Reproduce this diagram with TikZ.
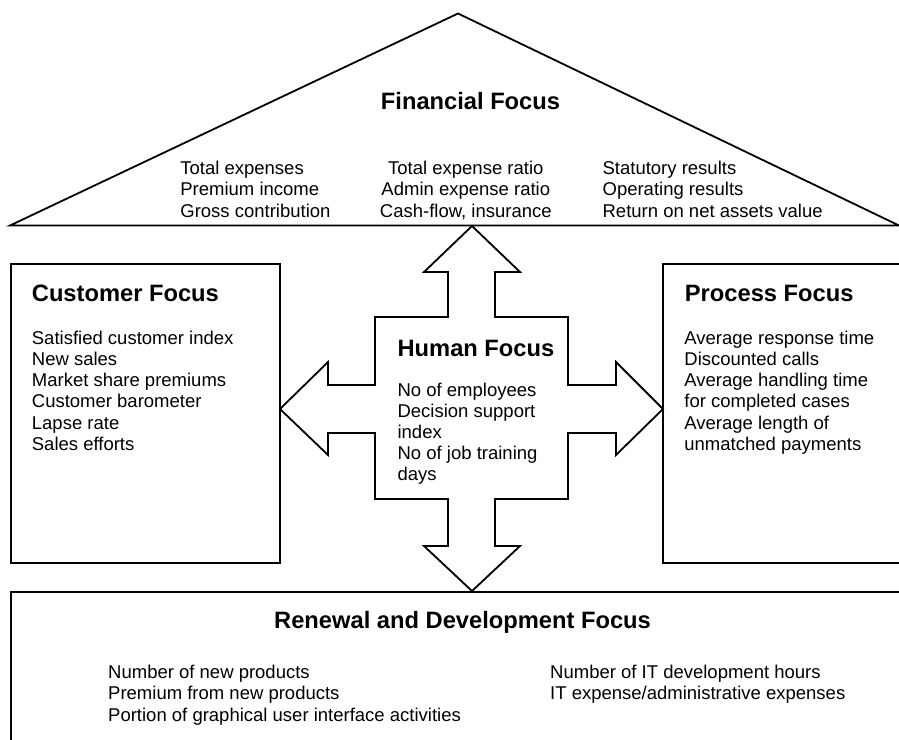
\documentclass[tikz,border=0pt]{standalone}
\usepackage{fontspec}
\setmainfont{Liberation Sans}
\begin{document}
\begin{tikzpicture}[x=1pt,y=-1pt,line width=1.8pt,line join=miter,
  box/.style={draw, rectangle, inner sep=0pt, outer sep=0pt, anchor=north west},
  head/.style={font=\fontsize{23.7}{28}\selectfont\bfseries, inner sep=0pt},
  body/.style={font=\fontsize{18.5}{21.3}\selectfont, inner sep=0pt}]
\useasboundingbox (0,0) rectangle (899,739);
% Financial focus roof
\draw (10,225.5) -- (458,13.5) -- (899,225.5) -- cycle;
\node[head, anchor=base] (fin) at (470.5,109) {Financial Focus};
\foreach \s [count=\i from 0] in {Total expenses, Premium income, Gross contribution}
  \node[body, anchor=base west] (fa\i) at (179.5,{174+21.6*\i}) {\s};
\foreach \s [count=\i from 0] in {Total expense ratio, Admin expense ratio, {Cash-flow, insurance}}
  \node[body, anchor=base] (fb\i) at (465.8,{174+21.6*\i}) {\s};
\foreach \s [count=\i from 0] in {Statutory results, Operating results, Return on net assets value}
  \node[body, anchor=base west] (fc\i) at (601.7,{174+21.6*\i}) {\s};
% Customer focus
\node[box, minimum width=269pt, minimum height=299pt] (cust) at (11,264) {};
\node[head, anchor=base west] (custh) at (31,301) {Customer Focus};
\foreach \s [count=\i from 0] in {Satisfied customer index, New sales, Market share premiums, Customer barometer, Lapse rate, Sales efforts}
  \node[body, anchor=base west] (ca\i) at (31,{344+21.25*\i}) {\s};
% Process focus
\node[box, minimum width=270pt, minimum height=299pt] (proc) at (663,264) {};
\node[head, anchor=base west] (proch) at (684,301) {Process Focus};
\foreach \s [count=\i from 0] in {Average response time, Discounted calls, Average handling time, for completed cases, Average length of, unmatched payments}
  \node[body, anchor=base west] (pa\i) at (683.5,{344+21.3*\i}) {\s};
% Renewal and development focus
\node[box, minimum width=900pt, minimum height=200pt] (ren) at (11,592) {};
\node[head, anchor=base west] (renh) at (273.3,628.5) {Renewal and Development Focus};
\foreach \s [count=\i from 0] in {Number of new products, Premium from new products, Portion of graphical user interface activities}
  \node[body, anchor=base west] (ra\i) at (107.3,{678.3+21.6*\i}) {\s};
\foreach \s [count=\i from 0] in {Number of IT development hours, IT expense/administrative expenses}
  \node[body, anchor=base west] (rb\i) at (549.3,{678.3+21.6*\i}) {\s};
% Human focus cross
\draw (472,226) -- (520,272) -- (495,272) -- (495,317) -- (568,317) -- (568,385)
  -- (616,385) -- (616,362) -- (663,409) -- (616,455) -- (616,433) -- (568,433)
  -- (568,499) -- (495,499) -- (495,546) -- (520,546) -- (472,591) -- (424,546)
  -- (448,546) -- (448,499) -- (375,499) -- (375,433) -- (328,433) -- (328,455)
  -- (280,409) -- (328,362) -- (328,385) -- (375,385) -- (375,317) -- (448,317)
  -- (448,272) -- (424,272) -- cycle;
\node[head, anchor=base west] (humh) at (396.7,356.7) {Human Focus};
\foreach \s [count=\i from 0] in {No of employees, Decision support, index, No of job training, days}
  \node[body, anchor=base west] (ha\i) at (396.7,{396+21.2*\i}) {\s};
\end{tikzpicture}
\end{document}
